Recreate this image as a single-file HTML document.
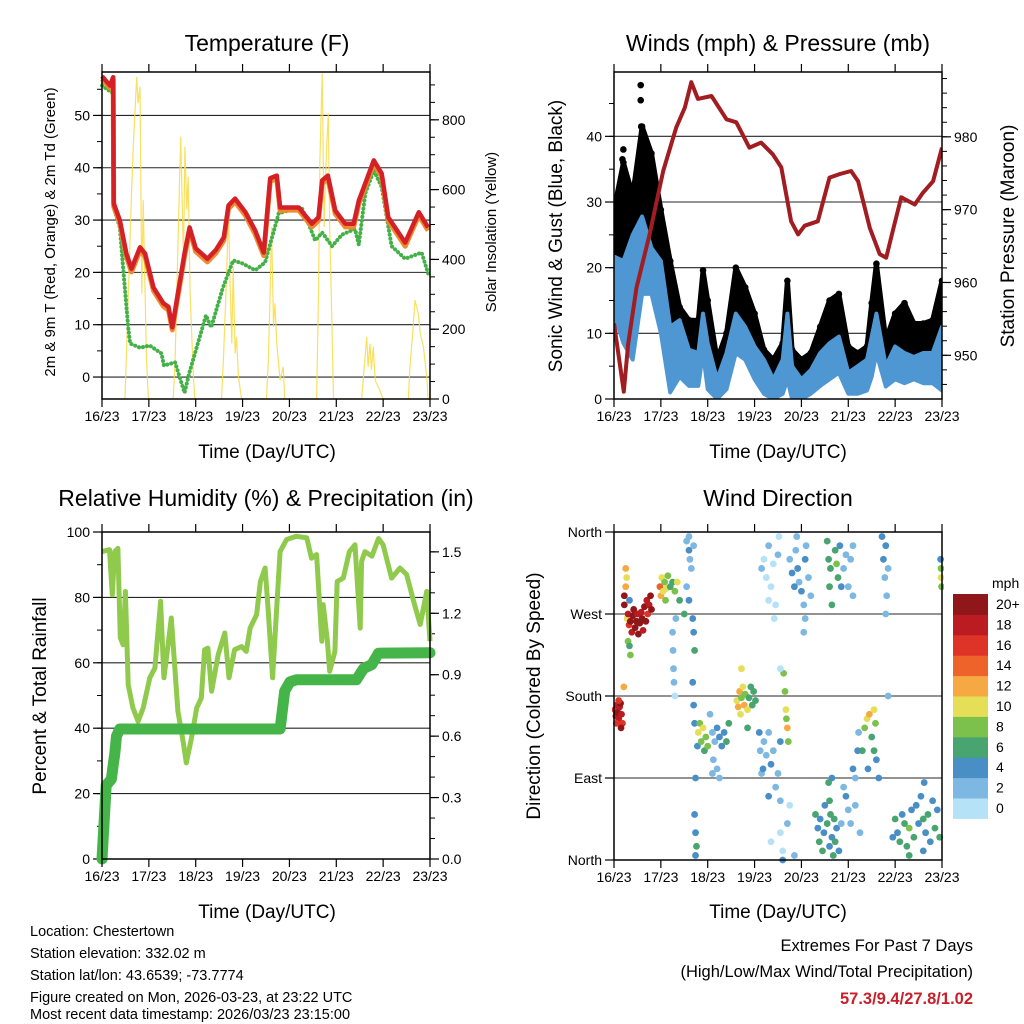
<!DOCTYPE html>
<html><head><meta charset="utf-8"><style>
html,body{margin:0;padding:0;background:#fff;}
svg{display:block;font-family:"Liberation Sans",sans-serif;}
</style></head><body>
<svg id="chart" width="1024" height="1024" viewBox="0 0 1024 1024">
<rect width="1024" height="1024" fill="#fff"/>
<g id="layer"></g>
<g font-size="14.5" fill="#000">
<text x="30" y="936">Location: Chestertown</text>
<text x="30" y="958">Station elevation: 332.02 m</text>
<text x="30" y="980">Station lat/lon: 43.6539; -73.7774</text>
<text x="30" y="1002">Figure created on Mon, 2026-03-23, at 23:22 UTC</text>
<text x="30" y="1024" dy="-5">Most recent data timestamp: 2026/03/23 23:15:00</text>
</g>
<g font-size="16.5" text-anchor="end">
<text x="973" y="951">Extremes For Past 7 Days</text>
<text x="973" y="977">(High/Low/Max Wind/Total Precipitation)</text>
<text x="973" y="1004" font-weight="bold" fill="#c8202a">57.3/9.4/27.8/1.02</text>
</g>
</svg>
<script>
// ---------- DATA ----------
const xTickLabels = ["16/23","17/23","18/23","19/23","20/23","21/23","22/23","23/23"];
// Temperature (days since 16/23 23UTC)
const tempDay = [0,0.17,0.24,0.25,0.38,0.52,0.63,0.81,0.92,1.1,1.31,1.42,1.5,1.62,1.76,1.87,2.0,2.25,2.43,2.6,2.7,2.84,3.06,3.27,3.45,3.59,3.73,3.8,3.98,4.2,4.48,4.62,4.7,4.82,4.98,5.19,5.37,5.48,5.8,5.97,6.11,6.47,6.76,6.96];
const tempRed = [57.5,55.7,57.3,33.2,30,23.6,20.7,24.8,23.6,17.1,14.1,13.4,9.5,16,23.6,28.6,24.6,22.6,24.3,26.7,32.8,34.1,31.5,28,23.8,38,38.5,32.4,32.4,32.4,29.3,30.5,37.6,38.5,31.8,29.3,29.3,33.7,41.4,38.9,30.5,25.7,31.5,28.6];
const tempOrange = [57,55.2,56.8,32.6,29.4,23,20.1,24.2,23,16.5,13.5,12.8,9,15.4,23,28,24,22,23.7,26.1,32.2,33.5,30.9,27.3,23.2,37.4,37.9,31.8,31.9,31.9,28.7,29.9,37,37.9,31.2,28.7,28.7,33.1,40.8,38.3,29.9,25,30.9,28];
const dewDay = [0,0.24,0.25,0.38,0.45,0.56,0.6,0.81,1.02,1.27,1.32,1.56,1.76,1.87,2.08,2.22,2.33,2.58,2.8,3.0,3.27,3.48,3.77,3.98,4.27,4.44,4.55,4.7,4.91,5.12,5.4,5.48,5.62,5.8,5.97,6.18,6.47,6.82,6.96];
const dewVal = [55.7,54.2,32.4,28.6,20.9,9.5,6.4,5.6,6.0,4.5,2.2,2.8,-3.0,1.0,7.5,11.8,9.5,17.1,22.3,21.7,20.4,21.9,31.3,31.8,32.2,28.6,26.1,27.6,25,27.2,28.3,25.3,35.1,39.5,36.3,25,22.6,23.8,19.8];
const solarDay = [0,0.49,0.63,0.67,0.74,0.77,0.81,0.85,0.88,0.92,0.95,0.99,1.52,1.56,1.63,1.68,1.74,1.77,1.81,1.84,1.88,1.95,1.98,2.55,2.59,2.66,2.70,2.73,2.77,2.80,2.84,2.87,2.91,2.98,3.51,3.55,3.58,3.62,3.66,3.69,3.73,3.80,3.87,3.90,4.58,4.62,4.65,4.70,4.74,4.79,4.83,4.86,4.90,4.94,5.54,5.58,5.65,5.68,5.72,5.75,5.79,5.83,5.93,6.0,6.54,6.57,6.63,6.68,6.75,6.79,6.86,6.93,6.96,7.0];
const solarVal = [0,0,589,732,923,847,895,302,570,302,111,0,0,111,493,751,398,723,541,637,302,64,0,0,111,350,541,350,159,379,130,178,64,0,0,111,255,493,207,274,159,54,92,0,0,302,684,933,493,703,818,493,255,0,0,64,178,92,159,83,150,54,25,0,0,92,188,283,245,188,150,64,0,0];
// Winds
const windDay = [0,0.2,0.4,0.6,0.8,1.0,1.2,1.4,1.6,1.8,1.9,2.0,2.2,2.4,2.6,2.8,3.0,3.2,3.4,3.6,3.7,3.8,4.0,4.2,4.4,4.6,4.8,5.0,5.2,5.4,5.5,5.6,5.8,6.0,6.2,6.4,6.6,6.8,7.0];
const windHi = [21.7,21,25,27.8,23,21,11,12,7.5,7,13,8.5,3,7,13,11,8,6,3,6,13,5,3,4.4,7,8.5,9.5,4,5,6,9.5,13,5,8,7,6.4,7,7,11];
const windLo = [13,8.5,6,16,16,10,1,3.4,2,2,7,1.5,0,1.5,7,6,3,0.8,0,0.8,3,0,0,0.8,2,3,4,0.8,0.8,1.3,3.4,7,1.9,3,2.4,3,2.4,2.4,1.3];
const gustHi = [28.8,36,31,41.5,37.4,28.8,21,14,12,12,19.6,15,6,10,20,17,13,7.5,6,8.5,18,7.5,6,7,11,15,16,8,7,8,14.6,20.6,9,13,14.6,11.5,11.5,12,18];
const gustPeakDay = [0.57,0.57,0.58,0.2,0.18,0.6,0.45,0.1];
const gustPeakVal = [47.8,45.5,41.5,38,36.5,39.5,33,30];
const presDay = [0,0.21,0.30,0.48,0.76,1.05,1.33,1.51,1.65,1.79,2.08,2.40,2.61,2.89,3.14,3.39,3.57,3.78,3.93,4.07,4.35,4.60,4.82,5.06,5.21,5.46,5.67,5.81,5.95,6.13,6.42,6.59,6.81,7.0];
const presVal = [954.4,945.0,951.5,959.3,966.6,975.3,981.3,984.0,987.5,985.2,985.6,982.4,982.0,978.5,979.2,977.6,975.8,968.4,966.6,967.8,968.4,974.4,974.9,975.3,973.9,967.5,963.9,963.4,967.1,971.7,970.7,972.3,973.9,978.5];
// Humidity & precipitation
const rhDay = [0,0.16,0.22,0.27,0.34,0.39,0.45,0.5,0.56,0.66,0.77,0.88,1.02,1.13,1.25,1.32,1.41,1.48,1.62,1.73,1.8,1.91,2.02,2.12,2.19,2.26,2.34,2.48,2.62,2.71,2.83,2.98,3.08,3.16,3.3,3.38,3.48,3.55,3.64,3.72,3.8,3.94,4.15,4.37,4.47,4.58,4.69,4.72,4.81,4.86,4.97,5.02,5.15,5.28,5.4,5.51,5.54,5.61,5.76,5.9,6.0,6.18,6.36,6.5,6.65,6.79,6.93,7.0];
const rhVal = [94,94.6,80.8,94,95,67.6,65.5,81.8,53.3,46.2,42.1,46.2,55.4,58.4,78.8,55.4,65.5,73.7,45.2,36,29.4,37,46.2,49.2,64,64.5,51.3,62.5,69.1,55.4,64,65,63.5,70.6,74.7,84.9,89,75.7,55.4,74.7,94,97.7,98.7,98.2,92,93.1,66.6,77.8,66.6,57.4,63.5,84.9,85.9,94,96.1,70.6,91,94,92.6,98,96.1,85.9,89,87,78.8,71.7,81.8,66.6];
const pcpDay = [0,0.09,0.2,0.24,0.27,0.31,0.38,3.8,3.9,4.01,4.15,5.43,5.58,5.76,5.9,7.0];
const pcpVal = [0,0.36,0.39,0.46,0.51,0.60,0.635,0.635,0.82,0.865,0.875,0.875,0.93,0.95,1.005,1.007];
// Wind direction
const dirDay = [0.02,0.04,0.06,0.08,0.1,0.12,0.14,0.16,0.18,0.05,0.1,0.15,0.21,
0.22,0.22,0.25,0.28,0.3,0.32,0.35,0.38,0.4,0.42,0.45,0.48,0.5,0.52,0.55,0.58,0.6,0.62,0.65,0.68,0.7,0.72,0.75,0.78,0.8,0.3,0.33,0.35,0.27,0.25,0.33,
0.98,1.0,1.02,1.05,1.08,1.1,1.12,1.15,1.2,1.25,1.3,1.35,1.4,1.5,1.55,1.6,
1.25,1.26,1.27,1.28,1.3,1.32,1.55,1.6,1.62,1.65,1.6,1.7,1.68,1.7,1.72,
1.68,1.7,1.72,1.74,1.72,1.74,1.76,1.74,1.78,
1.8,1.83,1.86,1.9,1.93,1.96,2.0,2.05,2.1,2.12,2.15,2.2,2.25,2.3,2.35,2.4,2.45,2.2,2.25,2.1,
2.62,2.65,2.68,2.7,2.72,2.75,2.78,2.8,2.85,2.88,2.92,2.95,2.98,3.02,2.72,2.85,
3.1,3.12,3.15,3.18,3.2,3.25,3.3,3.35,3.4,3.45,3.5,3.55,3.3,3.55,3.65,3.67,3.7,3.72,3.68,3.62,
3.2,3.25,3.3,3.35,3.4,3.45,3.5,3.52,3.42,3.55,3.15,3.3,3.6,3.6,3.55,3.75,3.85,3.35,3.7,
3.75,3.8,3.85,3.88,3.92,3.95,4.0,4.05,4.08,4.1,4.15,4.2,3.9,4.08,4.05,
4.3,4.35,4.38,4.4,4.45,4.48,4.5,4.55,4.6,4.62,4.65,4.68,4.7,4.72,4.75,4.8,4.85,4.58,4.6,4.65,
4.55,4.58,4.6,4.62,4.65,4.72,4.75,4.78,4.82,4.85,4.9,4.95,5.0,5.05,5.1,5.1,
4.9,4.95,5.0,5.05,5.1,5.15,5.2,5.22,5.3,5.35,5.4,5.45,5.5,5.55,5.58,5.6,5.65,5.55,5.42,5.15,5.25,
5.72,5.75,5.78,5.8,5.82,5.85,5.8,5.85,
6.0,6.05,6.1,6.15,6.2,6.25,6.3,6.35,6.4,6.45,6.5,6.55,6.6,6.62,6.65,6.7,6.75,6.8,6.85,6.9,6.95,6.6,6.3,5.95,
6.97,6.98,6.98,6.99];
const dirDeg = [165,158,170,162,155,168,172,160,150,150,175,145,190,
290,280,300,265,270,258,262,250,268,275,255,262,270,248,260,272,265,252,278,262,285,270,280,290,275,240,235,225,310,320,285,
300,290,310,295,305,285,298,312,300,305,295,305,285,270,300,285,
250,230,210,195,180,265,350,340,330,320,355,345,265,250,230,
195,170,150,90,50,30,15,5,125,
140,150,130,145,120,135,125,160,140,110,130,145,135,125,140,130,150,100,90,95,
175,168,185,160,178,190,170,182,165,178,190,170,185,175,210,145,
140,120,95,100,130,115,140,105,120,80,95,130,70,65,185,165,145,130,155,205,
330,310,345,300,325,280,335,355,265,210,320,285,0,10,30,60,5,20,40,
330,315,300,340,320,305,295,280,330,345,310,290,355,265,250,
50,35,20,45,10,30,60,40,15,50,25,5,45,20,35,10,40,85,65,90,
350,330,300,320,280,340,325,310,345,300,320,335,300,330,290,345,
80,70,55,40,100,90,120,140,120,145,155,160,135,120,150,110,90,165,100,60,30,
355,330,310,345,290,320,270,180,
45,30,20,50,40,15,35,55,25,60,40,70,45,85,30,50,20,65,35,55,25,10,5,25,
330,320,310,300];
const dirSpd = [17,18,19,20,18,19,20,18,17,16,16,20,13,
20,20,12,10,18,16,20,18,20,20,20,20,18,20,20,18,20,18,20,20,18,16,18,20,20,8,6,8,10,12,4,
14,12,10,11,9,8,10,8,6,7,8,10,6,7,3,5,
3,3,2,2,1,2,2,4,3,3,3,3,4,5,7,
4,4,5,4,4,4,6,5,4,
10,9,8,10,6,9,8,2,2,3,2,4,4,4,5,6,6,2,2,2,
10,13,12,11,9,10,12,8,10,7,7,6,7,6,10,6,
4,3,3,4,2,2,3,4,2,2,3,4,4,2,8,10,12,8,8,8,
0,1,2,1,0,1,2,1,0,1,2,1,4,1,1,1,2,0,2,
2,4,4,3,4,3,4,2,4,2,3,3,2,2,2,
6,5,6,4,6,5,4,6,4,6,5,6,6,6,5,4,3,6,6,4,
6,6,7,6,7,7,8,7,4,4,2,3,2,2,2,3,
2,4,2,2,4,3,4,3,6,8,10,12,6,6,9,4,4,10,4,2,3,
4,4,3,4,2,3,2,2,
6,5,6,4,7,6,8,4,6,4,5,4,6,4,5,6,5,4,6,5,6,4,6,4,
4,8,10,9];
const speedBins = ["0","2","4","6","8","10","12","14","16","18","20+"];
const speedColors = ["#b5e2f7","#7db8e2","#4a8ec6","#48a56f","#7cc14c","#e5df57","#f6a943","#ee6329","#dd3427","#ba1c22","#8f1619"];

// ---------- DRAWING ----------
const NS = "http://www.w3.org/2000/svg";
const layer = document.getElementById("layer");
function el(tag, attrs, parent) {
  const e = document.createElementNS(NS, tag);
  for (const k in attrs) e.setAttribute(k, attrs[k]);
  (parent || layer).appendChild(e);
  return e;
}
function scale(d0, d1, r0, r1) { return v => r0 + (v - d0) / (d1 - d0) * (r1 - r0); }
function txt(x, y, s, size, anchor, parent, rot) {
  const t = el("text", {x: x, y: y, "font-size": size, "text-anchor": anchor || "middle"}, parent);
  if (rot) t.setAttribute("transform", "rotate(-90 " + x + " " + y + ")");
  t.textContent = s;
  return t;
}
function pathD(xs, ys, fx, fy) {
  return xs.map((d, i) => (i ? "L" : "M") + fx(d).toFixed(1) + " " + fy(ys[i]).toFixed(1)).join("");
}

function panelFrame(g, L, T, R, B, xs) {
  // x ticks top & bottom
  xTickLabels.forEach((lab, i) => {
    const x = xs(i);
    el("line", {x1: x, x2: x, y1: T - 8, y2: T, stroke: "#000", "stroke-width": 1.2}, g);
    el("line", {x1: x, x2: x, y1: B, y2: B + 8, stroke: "#000", "stroke-width": 1.2}, g);
    const t = txt(x, B + 22, lab, 14, "middle", g);
    
    
  });
}
function yAxis(g, ticks, labels, minors, fy, x, side, L, R, grid) {
  const dir = side === "left" ? -1 : 1;
  minors.forEach(v => el("line", {x1: x, x2: x + dir * 5, y1: fy(v), y2: fy(v), stroke: "#000", "stroke-width": 1}, g));
  ticks.forEach((v, i) => {
    const y = fy(v);
    el("line", {x1: x, x2: x + dir * 9, y1: y, y2: y, stroke: "#000", "stroke-width": 1.2}, g);
    if (grid && v > grid[0] && v < grid[1]) {
      const gl = el("line", {x1: L, x2: R, y1: y, y2: y, stroke: "#000", "stroke-width": 1.1, opacity: 0.85}, g);
      
      
    }
    const t = txt(x + dir * 12, y + 5, labels[i], 14, side === "left" ? "end" : "start", g);
    
    
  });
}
function range(a, b, s) { const r = []; for (let v = a; v <= b + 1e-9; v += s) r.push(+v.toFixed(4)); return r; }

// ---- Panel 1: Temperature ----
{
  const L = 102, R = 430, T = 72, B = 399;
  const g = el("g", {});
  
  
  const fx = scale(0, 7, L, R), fy = scale(-4.2, 58.3, B, T), fs = scale(0, 937, B, T);
  const tk = range(0, 50, 10);
  yAxis(g, tk, tk.map(String), range(-0, 55, 5), fy, L, "left", L, R, [-5, 58]);
  const sk = range(0, 800, 200);
  yAxis(g, sk, sk.map(String), range(0, 900, 50), fs, R, "right", L, R, null);
  const clip = el("clipPath", {id: "c1"}, g); el("rect", {x: L, y: T, width: R - L, height: B - T}, clip);
  const solar = el("path", {d: pathD(solarDay, solarVal, fx, fs), fill: "none", stroke: "#f7da45", "stroke-width": 1.2, opacity: 0.85, "clip-path": "url(#c1)"}, g);
  
  
  const dew = el("path", {d: pathD(dewDay, dewVal, fx, fy), fill: "none", stroke: "#44b048", "stroke-width": 4, "stroke-dasharray": "0.1 4", "stroke-linecap": "round", "stroke-linejoin": "round"}, g);
  
  
  const or = el("path", {d: pathD(tempDay, tempOrange, fx, fy), fill: "none", stroke: "#f08a2e", "stroke-width": 5, "stroke-linejoin": "round"}, g);
  
  
  const rd = el("path", {d: pathD(tempDay, tempRed, fx, fy), fill: "none", stroke: "#d42027", "stroke-width": 4.5, "stroke-linejoin": "round"}, g);
  
  
  el("rect", {x: L, y: T, width: R - L, height: B - T, fill: "none", stroke: "#000", "stroke-width": 1.5}, g);
  panelFrame(g, L, T, R, B, scale(0, 7, L, R));
  const t1 = txt(267, 51, "Temperature (F)", 23, "middle", g);
   
  const t2 = txt(55, 232, "2m & 9m T (Red, Orange) & 2m Td (Green)", 15, "middle", g, true);
   
  const t3 = txt(496, 232, "Solar Insolation (Yellow)", 15, "middle", g, true);
   
  const t4 = txt(267, 458, "Time (Day/UTC)", 19, "middle", g);
   
}

// ---- Panel 2: Winds ----
{
  const L = 614, R = 942, T = 72, B = 399;
  const g = el("g", {});
  
  
  const fx = scale(0, 7, L, R), fy = scale(0, 49.8, B, T), fp = scale(944.0, 988.9, B, T);
  const tk = range(0, 40, 10);
  yAxis(g, tk, tk.map(String), range(0, 45, 5), fy, L, "left", L, R, [0, 49]);
  const pk = range(950, 980, 10);
  yAxis(g, pk, pk.map(String), range(946, 988, 2), fp, R, "right", L, R, null);
  const clip = el("clipPath", {id: "c2"}, g); el("rect", {x: L, y: T, width: R - L, height: B - T}, clip);
  const cg = el("g", {"clip-path": "url(#c2)"}, g);
  // gust band
  let d = pathD(windDay, gustHi, fx, fy) + windDay.slice().reverse().map((v, i) => "L" + fx(v).toFixed(1) + " " + fy(windHi[windHi.length - 1 - i]).toFixed(1)).join("") + "Z";
  const gb = el("path", {d: d, fill: "#000", stroke: "#000", "stroke-width": 5, "stroke-linejoin": "round"}, cg);
  
  
  windDay.forEach((v, i) => {
    const c = el("circle", {cx: fx(v), cy: fy(gustHi[i]), r: 3.3, fill: "#000"}, cg);
    
    
  });
  gustPeakDay.forEach((v, i) => {
    const c = el("circle", {cx: fx(v), cy: fy(gustPeakVal[i]), r: 3.3, fill: "#000"}, cg);
    
    
  });
  d = pathD(windDay, windHi, fx, fy) + windDay.slice().reverse().map((v, i) => "L" + fx(v).toFixed(1) + " " + fy(windLo[windLo.length - 1 - i]).toFixed(1)).join("") + "Z";
  const wb = el("path", {d: d, fill: "#4f97d3", stroke: "#4f97d3", "stroke-width": 4, "stroke-linejoin": "round"}, cg);
  
  
  const pr = el("path", {d: pathD(presDay, presVal, fx, fp), fill: "none", stroke: "#a11d21", "stroke-width": 4, "stroke-linejoin": "round"}, cg);
  
  
  el("rect", {x: L, y: T, width: R - L, height: B - T, fill: "none", stroke: "#000", "stroke-width": 1.5}, g);
  panelFrame(g, L, T, R, B, fx);
  const t1 = txt(778, 51, "Winds (mph) & Pressure (mb)", 23, "middle", g);
   
  const t2 = txt(562, 236, "Sonic Wind & Gust (Blue, Black)", 19, "middle", g, true);
   
  const t3 = txt(1014, 236, "Station Pressure (Maroon)", 19, "middle", g, true);
   
  const t4 = txt(778, 458, "Time (Day/UTC)", 19, "middle", g);
   
}

// ---- Panel 3: RH & precip ----
{
  const L = 102, R = 430, T = 532, B = 859;
  const g = el("g", {});
  
  
  const fx = scale(0, 7, L, R), fy = scale(0, 100, B, T), fp = scale(0, 1.597, B, T);
  const tk = range(0, 100, 20);
  yAxis(g, tk, tk.map(String), range(0, 100, 10), fy, L, "left", L, R, [0, 100]);
  const pk = range(0, 1.5, 0.3);
  yAxis(g, pk, pk.map(v => v.toFixed(1)), range(0, 1.5, 0.1), fp, R, "right", L, R, null);
  const rh = el("path", {d: pathD(rhDay, rhVal, fx, fy), fill: "none", stroke: "#8fca4c", "stroke-width": 5, "stroke-linejoin": "round"}, g);
  
  
  const pc = el("path", {d: pathD(pcpDay, pcpVal, fx, fp), fill: "none", stroke: "#45b549", "stroke-width": 11, "stroke-linejoin": "round", "stroke-linecap": "round"}, g);
  
  
  el("rect", {x: L, y: T, width: R - L, height: B - T, fill: "none", stroke: "#000", "stroke-width": 1.5}, g);
  panelFrame(g, L, T, R, B, fx);
  const t1 = txt(266, 506, "Relative Humidity (%) & Precipitation (in)", 23, "middle", g);
   
  const t2 = txt(46, 696, "Percent & Total Rainfall", 19, "middle", g, true);
   
  const t4 = txt(267, 918, "Time (Day/UTC)", 19, "middle", g);
   
}

// ---- Panel 4: Wind direction ----
{
  const L = 614, R = 942, T = 532, B = 860;
  const g = el("g", {});
  
  
  const fx = scale(0, 7, L, R), fy = scale(0, 360, B, T);
  yAxis(g, [0, 90, 180, 270, 360], ["North", "East", "South", "West", "North"], [], fy, L, "left", L - 8, R, [1, 359]);
  const clip = el("clipPath", {id: "c4"}, g); el("rect", {x: L - 2, y: T - 4, width: R - L + 4, height: B - T + 8}, clip);
  const cg = el("g", {"clip-path": "url(#c4)"}, g);
  dirDay.forEach((v, i) => {
    const bin = Math.min(10, Math.floor(dirSpd[i] / 2));
    const c = el("circle", {cx: fx(v), cy: fy(dirDeg[i]), r: 3.4, fill: speedColors[bin]}, cg);
    
    
  });
  el("rect", {x: L, y: T, width: R - L, height: B - T, fill: "none", stroke: "#000", "stroke-width": 1.5}, g);
  panelFrame(g, L, T, R, B, fx);
  const t1 = txt(778, 506, "Wind Direction", 23, "middle", g);
   
  const t2 = txt(540, 696, "Direction (Colored By Speed)", 19, "middle", g, true);
   
  const t4 = txt(778, 918, "Time (Day/UTC)", 19, "middle", g);
   
  // colorbar
  const cb = el("g", {}, g);
  
  
  const top = 594, h = 20.4;
  const mt = txt(992, 588, "mph", 14, "start", cb);
   
  speedBins.forEach((lab, i) => {
    const y = top + (10 - i) * h;
    const r = el("rect", {x: 953, y: y, width: 35, height: h + 0.5, fill: speedColors[i]}, cb);
    
    
    const t = txt(996, y + 15, lab, 14, "start", cb);
    
    
  });
}
</script>
</body></html>
